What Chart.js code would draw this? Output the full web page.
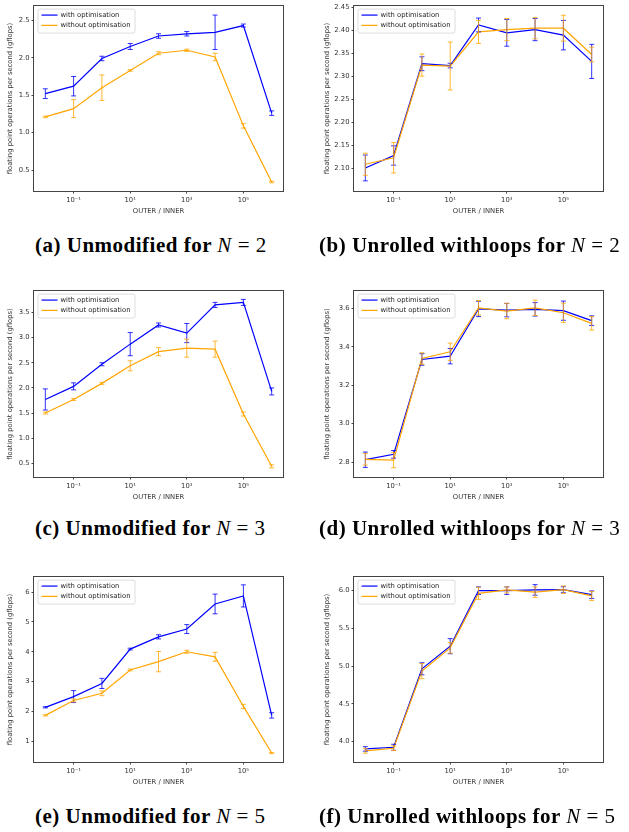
<!DOCTYPE html>
<html>
<head>
<meta charset="utf-8">
<script src="https://cdn.jsdelivr.net/npm/chart.js@4.4.0/dist/chart.umd.min.js"></script>
<style>
    body { margin: 0; background: #fff; width: 629px; height: 832px; position: relative; overflow: hidden; }
    canvas { position: absolute; }
    .caption {
        position: absolute;
        font-family: "Liberation Serif", "DejaVu Serif", serif;
        font-weight: bold;
        font-size: 21px;
        line-height: 24px;
        letter-spacing: 0.5px;
        white-space: nowrap;
        color: #000;
    }
    .caption .m { font-weight: normal; }
</style>
</head>
<body>
<canvas id="chartA" width="315" height="221"></canvas>
<canvas id="chartB" width="315" height="221"></canvas>
<canvas id="chartC" width="315" height="222"></canvas>
<canvas id="chartD" width="315" height="222"></canvas>
<canvas id="chartE" width="315" height="221"></canvas>
<canvas id="chartF" width="315" height="221"></canvas>

<div class="caption" style="left:35px; top:233px;">(a) Unmodified for <span class="m"><i>N</i> = 2</span></div>
<div class="caption" style="left:319px; top:233px;">(b) Unrolled withloops for <span class="m"><i>N</i> = 2</span></div>
<div class="caption" style="left:35px; top:516px;">(c) Unmodified for <span class="m"><i>N</i> = 3</span></div>
<div class="caption" style="left:319px; top:516px;">(d) Unrolled withloops for <span class="m"><i>N</i> = 3</span></div>
<div class="caption" style="left:35px; top:804px;">(e) Unmodified for <span class="m"><i>N</i> = 5</span></div>
<div class="caption" style="left:319px; top:804px;">(f) Unrolled withloops for <span class="m"><i>N</i> = 5</span></div>

<script>
// x values (OUTER / INNER) and log tick labels
const outerInner = [0.01, 0.1, 1, 10, 100, 1000, 1e4, 1e5, 1e6];
const xTicks = [0.1, 10, 1000, 100000];
const xTickLabels = ["10\u207B\u00B9", "10\u00B9", "10\u00B3", "10\u2075"];

// (a) unmodified, N = 2
const aWith = [1.52, 1.62, 1.99, 2.15, 2.29, 2.32, 2.34, 2.43, 1.26];
const aWithErr = [0.065, 0.13, 0.03, 0.04, 0.03, 0.03, 0.23, 0.02, 0.03];
const aWithout = [1.21, 1.32, 1.60, 1.83, 2.06, 2.10, 2.01, 1.09, 0.34];
const aWithoutErr = [0.01, 0.12, 0.17, 0.01, 0.02, 0.015, 0.05, 0.03, 0.01];
const aTicks = [0.5, 1.0, 1.5, 2.0, 2.5];

// (b) unrolled withloops, N = 2
const bWith = [2.101, 2.128, 2.327, 2.323, 2.411, 2.394, 2.401, 2.389, 2.332];
const bWithErr = [0.028, 0.021, 0.015, 0.005, 0.015, 0.029, 0.024, 0.032, 0.037];
const bWithout = [2.109, 2.123, 2.324, 2.322, 2.396, 2.401, 2.404, 2.404, 2.347];
const bWithoutErr = [0.024, 0.033, 0.024, 0.052, 0.025, 0.024, 0.023, 0.028, 0.016];
const bTicks = [2.10, 2.15, 2.20, 2.25, 2.30, 2.35, 2.40, 2.45];

// (c) unmodified, N = 3
const cWith = [1.77, 2.03, 2.47, 2.87, 3.25, 3.09, 3.65, 3.70, 1.93];
const cWithErr = [0.21, 0.07, 0.03, 0.23, 0.04, 0.19, 0.05, 0.06, 0.07];
const cWithout = [1.50, 1.77, 2.09, 2.44, 2.72, 2.79, 2.77, 1.48, 0.44];
const cWithoutErr = [0.02, 0.02, 0.02, 0.10, 0.08, 0.18, 0.16, 0.04, 0.03];
const cTicks = [0.5, 1.0, 1.5, 2.0, 2.5, 3.0, 3.5];

// (d) unrolled withloops, N = 3
const dWith = [2.812, 2.84, 3.334, 3.351, 3.597, 3.591, 3.595, 3.588, 3.536];
const dWithErr = [0.04, 0.02, 0.03, 0.04, 0.04, 0.035, 0.035, 0.05, 0.025];
const dWithout = [2.814, 2.81, 3.339, 3.374, 3.603, 3.586, 3.603, 3.577, 3.522];
const dWithoutErr = [0.03, 0.04, 0.03, 0.045, 0.038, 0.04, 0.04, 0.05, 0.035];
const dTicks = [2.8, 3.0, 3.2, 3.4, 3.6];

// (e) unmodified, N = 5
const eWith = [2.14, 2.50, 2.94, 4.09, 4.50, 4.76, 5.60, 5.87, 1.87];
const eWithErr = [0.02, 0.20, 0.17, 0.03, 0.07, 0.15, 0.33, 0.37, 0.09];
const eWithout = [1.87, 2.37, 2.61, 3.39, 3.67, 4.00, 3.83, 2.17, 0.61];
const eWithoutErr = [0.02, 0.05, 0.08, 0.03, 0.34, 0.05, 0.15, 0.07, 0.02];
const eTicks = [1, 2, 3, 4, 5, 6];

// (f) unrolled withloops, N = 5
const fWith = [3.903, 3.925, 4.965, 5.264, 6.0, 6.0, 6.01, 6.013, 5.947];
const fWithErr = [0.03, 0.04, 0.08, 0.10, 0.05, 0.05, 0.07, 0.04, 0.05];
const fWithout = [3.877, 3.912, 4.934, 5.242, 5.965, 6.01, 5.98, 6.013, 5.93];
const fWithoutErr = [0.03, 0.03, 0.10, 0.07, 0.08, 0.04, 0.07, 0.05, 0.06];
const fTicks = [4.0, 4.5, 5.0, 5.5, 6.0];

const BLUE = "#0000ff";
const ORANGE = "#ffa500";

Chart.defaults.font.family = '"DejaVu Sans", sans-serif';
Chart.defaults.font.size = 6.8;
Chart.defaults.color = "#333";

// vertical error bars with caps, drawn through the chart's scales
const errorBars = {
    id: "errorBars",
    afterDatasetsDraw(chart) {
        const { ctx, scales: { x, y } } = chart;
        ctx.save();
        chart.data.datasets.forEach(ds => {
            ctx.strokeStyle = ds.errColor;
            ctx.lineWidth = 1;
            ds.data.forEach((p, i) => {
                const e = ds.errors[i];
                const px = x.getPixelForValue(p.x);
                const top = y.getPixelForValue(p.y + e);
                const bot = y.getPixelForValue(p.y - e);
                ctx.beginPath();
                ctx.moveTo(px, top);
                ctx.lineTo(px, bot);
                ctx.moveTo(px - 2.5, top);
                ctx.lineTo(px + 2.5, top);
                ctx.moveTo(px - 2.5, bot);
                ctx.lineTo(px + 2.5, bot);
                ctx.stroke();
            });
        });
        ctx.restore();
    }
};

// full box around the plot area plus legend in the upper left corner
const frameAndLegend = {
    id: "frameAndLegend",
    afterDraw(chart) {
        const { ctx, chartArea } = chart;
        ctx.save();
        ctx.strokeStyle = "#444";
        ctx.lineWidth = 1;
        ctx.strokeRect(Math.round(chartArea.left) - 0.5, Math.round(chartArea.top) - 0.5,
            Math.round(chartArea.width) + 1, Math.round(chartArea.height) + 1);

        const x0 = chartArea.left + 4;
        const y0 = chartArea.top + 3;
        ctx.fillStyle = "rgba(255,255,255,0.8)";
        ctx.strokeStyle = "#d4d4d4";
        ctx.lineWidth = 0.8;
        ctx.beginPath();
        ctx.roundRect(x0, y0, 97, 24, 2);
        ctx.fill();
        ctx.stroke();

        ctx.font = '6.8px "DejaVu Sans"';
        ctx.textBaseline = "middle";
        chart.data.datasets.forEach((ds, i) => {
            const ly = y0 + 6 + i * 10.3;
            ctx.strokeStyle = ds.borderColor;
            ctx.lineWidth = 1.2;
            ctx.beginPath();
            ctx.moveTo(x0 + 3.5, ly);
            ctx.lineTo(x0 + 19.5, ly);
            ctx.stroke();
            ctx.fillStyle = "#222";
            ctx.fillText(ds.label, x0 + 22.5, ly);
        });
        ctx.restore();
    }
};

function makeChart(id, left, top, withVals, withErr, withoutVals, withoutErr, yTicks, yMin, yMax, decimals) {
    const canvas = document.getElementById(id);
    canvas.style.left = left + "px";
    canvas.style.top = top + "px";
    const rightCol = left > 0;

    new Chart(canvas.getContext("2d"), {
        type: "line",
        data: {
            datasets: [
                {
                    label: "with optimisation",
                    data: outerInner.map((x, i) => ({ x: x, y: withVals[i] })),
                    errors: withErr,
                    errColor: "rgba(0,0,255,0.8)",
                    borderColor: BLUE,
                    borderWidth: 1.2,
                    pointRadius: 0,
                    order: 2
                },
                {
                    label: "without optimisation",
                    data: outerInner.map((x, i) => ({ x: x, y: withoutVals[i] })),
                    errors: withoutErr,
                    errColor: "rgba(255,165,0,0.8)",
                    borderColor: ORANGE,
                    borderWidth: 1.2,
                    pointRadius: 0,
                    order: 1
                }
            ]
        },
        options: {
            responsive: false,
            animation: false,
            events: [],
            layout: { padding: { top: 6, right: rightCol ? 26 : 32, left: 0, bottom: 0 } },
            plugins: {
                legend: { display: false },
                tooltip: { enabled: false }
            },
            scales: {
                x: {
                    type: "logarithmic",
                    bounds: "data",
                    min: Math.pow(10, -2.4),
                    max: Math.pow(10, 6.4),
                    afterBuildTicks: scale => {
                        scale.ticks = xTicks.map(v => ({ value: v }));
                    },
                    afterFit: scale => { scale.height = 30; },
                    ticks: {
                        autoSkip: false,
                        maxRotation: 0,
                        padding: 3,
                        callback: (v, i) => xTickLabels[i]
                    },
                    grid: { drawOnChartArea: false, drawTicks: true, tickLength: 2.5, color: "#444" },
                    border: { display: false },
                    title: {
                        display: true,
                        text: "OUTER / INNER",
                        padding: { top: 0, bottom: 5.4 }
                    }
                },
                y: {
                    type: "linear",
                    bounds: "data",
                    min: yMin,
                    max: yMax,
                    afterBuildTicks: scale => {
                        scale.ticks = yTicks.map(v => ({ value: v }));
                    },
                    afterFit: scale => { scale.width = rightCol ? 40 : 34; },
                    ticks: {
                        autoSkip: false,
                        padding: 2,
                        callback: v => Number(v).toFixed(decimals)
                    },
                    grid: { drawOnChartArea: false, drawTicks: true, tickLength: 2.5, color: "#444" },
                    border: { display: false },
                    title: {
                        display: true,
                        text: "floating point operations per second (gflops)",
                        padding: { top: rightCol ? 9.5 : 5.9, bottom: 0 }
                    }
                }
            }
        },
        plugins: [errorBars, frameAndLegend]
    });
}

makeChart("chartA", 0, 0, aWith, aWithErr, aWithout, aWithoutErr, aTicks, 0.22, 2.69, 1);
makeChart("chartB", 314, 0, bWith, bWithErr, bWithout, bWithoutErr, bTicks, 2.051, 2.452, 2);
makeChart("chartC", 0, 285, cWith, cWithErr, cWithout, cWithoutErr, cTicks, 0.228, 3.925, 1);
makeChart("chartD", 314, 285, dWith, dWithErr, dWithout, dWithoutErr, dTicks, 2.722, 3.69, 1);
makeChart("chartE", 0, 571, eWith, eWithErr, eWithout, eWithoutErr, eTicks, 0.31, 6.5, 0);
makeChart("chartF", 314, 571, fWith, fWithErr, fWithout, fWithoutErr, fTicks, 3.73, 6.18, 1);
</script>
</body>
</html>
